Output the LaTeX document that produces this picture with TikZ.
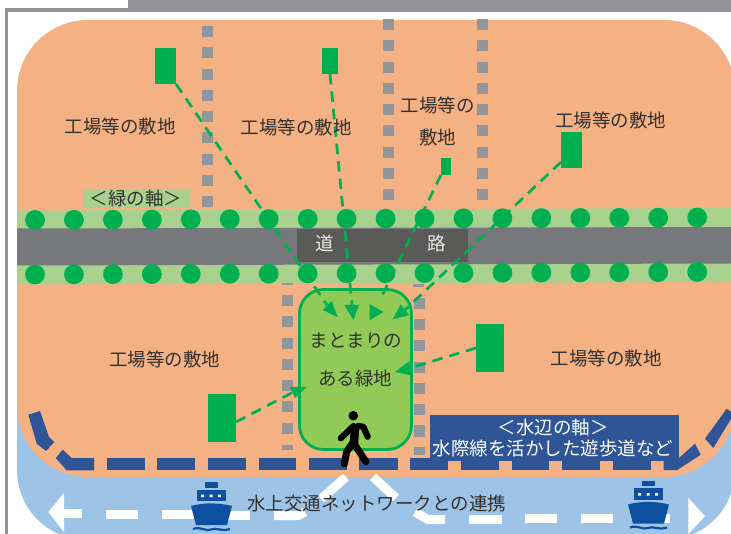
\documentclass[tikz,border=0pt]{standalone}
\usepackage{fontspec}
\setmainfont{Noto Sans CJK JP}
\definecolor{frameGrey}{HTML}{939598}
\definecolor{siteOrange}{HTML}{F4B183}
\definecolor{waterBlue}{HTML}{9DC3E6}
\definecolor{bandGreen}{HTML}{A9D18E}
\definecolor{roadGrey}{HTML}{77787B}
\definecolor{roadDark}{HTML}{5A5A58}
\definecolor{vivid}{HTML}{00B050}
\definecolor{parkGreen}{HTML}{92CA57}
\definecolor{axisBlue}{HTML}{2F5597}
\definecolor{shipBlue}{HTML}{0F4FA0}
\definecolor{inkText}{HTML}{33302E}
\tikzset{
  x=1pt,y=-1pt,
  label/.style={inner sep=0,outer sep=0,text=inkText,font=\fontsize{18.5}{20}\selectfont},
  whitelabel/.style={label,text=white},
  block/.style={fill=vivid,inner sep=0,outer sep=0},
  feeder/.style={draw=vivid,line width=2.7pt,dash pattern=on 10.5pt off 7pt},
  headtip/.style={fill=vivid},
  flow/.style={draw=white,line width=9pt,line join=miter},
  walker/.style={draw=black,line cap=round,line join=round},
  shipicon/.pic={
    \fill[shipBlue] (-6.5,-19) rectangle (6.5,-13.5);
    \fill[shipBlue] (-14.5,-11.5) rectangle (14.5,0);
    \fill[white] (-10,-6.5) rectangle (-7,-4) (-1.5,-6.5) rectangle (1.5,-4) (7,-6.5) rectangle (10,-4);
    \fill[shipBlue] (-20,5) .. controls (-7,1.5) and (7,1.5) .. (21,5) -- (16,24) -- (-15,24) -- cycle;
    \draw[shipBlue,line width=2.2pt] (-18,28) .. controls (-10,25) and (-5,31) .. (0,28.5) .. controls (5,26) and (10,31) .. (19,28);
  }
}
\begin{document}
\begin{tikzpicture}
\useasboundingbox (0,0) rectangle (731,534);
\clip (0,0) rectangle (731,534);
\fill[white] (0,0) rectangle (731,534);
% frame
\fill[frameGrey] (128,0) rectangle (731,12);
\fill[frameGrey] (4.5,8.5) rectangle (128,12.5);
\fill[frameGrey] (4.5,8.5) rectangle (8.3,534);
% ground
\fill[waterBlue,rounded corners=70pt] (17,300) rectangle (735,540);
\fill[siteOrange,rounded corners=71pt] (17,20) rectangle (735,477);
% bands and road
\fill[bandGreen] (17,210.5) -- (731,208) -- (731,227) -- (17,229) -- cycle;
\fill[bandGreen] (17,265) -- (731,263) -- (731,282) -- (17,284.5) -- cycle;
\fill[roadGrey] (17,228.5) -- (731,227) -- (731,263.5) -- (17,265.5) -- cycle;
\fill[roadDark] (297,229) rectangle (468,262);
% grey walkways
\foreach \i in {0,...,8}{
  \pgfmathsetmacro{\yy}{26+21.3*\i}
  \fill[frameGrey] (202,\yy) rectangle ++(11,11);
  \pgfmathsetmacro{\yz}{19+21.3*\i}
  \fill[frameGrey] (383,\yz) rectangle ++(11,11);
  \fill[frameGrey] (476.7,\yz) rectangle ++(11,11);
}
\foreach \i in {0,...,6}{
  \pgfmathsetmacro{\yy}{295+21.3*\i}
  \fill[frameGrey] (282,\yy) rectangle ++(11,11);
  \pgfmathsetmacro{\yz}{297.7+21.3*\i}
  \fill[frameGrey] (413.5,\yz) rectangle ++(11,11);
}
\fill[frameGrey] (282,283.5) rectangle (293,285);
\fill[frameGrey] (282,444.7) rectangle (293,449.7);
\fill[frameGrey] (413,284.5) rectangle (424,287);
\fill[frameGrey] (413.5,447) rectangle (424.5,455);
% park
\node[draw=vivid,fill=parkGreen,line width=2.8pt,rounded corners=24pt,inner sep=0,outer sep=0,minimum width=112pt,minimum height=160pt] (park) at (355.5,369.5) {};
% water-edge axis
\fill[axisBlue] (430,415) rectangle (679,460.7);
\foreach \a/\b in {106.7/144.7,157/195,208/246,258.7/296.3,309/346.7,359.3/397.7,410.3/448,461/499,511.7/549.3,562.3/600.3,613/651}{
  \fill[axisBlue] (\a,458) rectangle (\b,470.2);
}
\fill[axisBlue] (28.3,414.7) -- (40,411) -- (49,437) -- (54.3,442) -- (46,451) -- (36.7,443.7) -- cycle;
\fill[axisBlue] (62.7,449.7) -- (71.7,458) -- (94,458) -- (94,470.3) -- (66.7,470.3) -- (55.7,458) -- cycle;
\fill[axisBlue] (663.7,458) -- (679,458) -- (695,443.7) -- (700.7,454.7) -- (677,470.2) -- (663.7,470.2) -- cycle;
\fill[axisBlue] (726.7,408.7) -- (734,414) -- (713.3,448) -- (705,438.7) -- cycle;
% water flow
\draw[flow] (64,513.5) -- (82,513.5);
\draw[flow] (106,514) -- (138,514);
\draw[flow] (162,514.5) -- (194,514.5);
\draw[flow] (218,515) -- (250,515);
\draw[flow] (274,515.5) -- (298,515.5) -- (305,512);
\draw[flow] (321,499) -- (346,477);
\draw[flow] (373,477) -- (396,498);
\draw[flow] (415,512) -- (428,519.7) -- (445,519.7);
\draw[flow] (469,519.5) -- (502,519.5);
\draw[flow] (525,518.7) -- (557,518.7);
\draw[flow] (581,518.7) -- (613,518.7);
\draw[flow] (637,518) -- (670,518);
\fill[white] (48.3,512) -- (64,493) -- (64,532) -- cycle;
\fill[white] (705,516.3) -- (688.3,497.7) -- (688.3,534) -- cycle;
\pic at (211,501) {shipicon};
\pic at (648,499.5) {shipicon};
% source blocks
\node[block,minimum width=21pt,minimum height=36pt] (srcA) at (165.5,66) {};
\node[block,minimum width=16pt,minimum height=26pt] (srcB) at (330,61) {};
\node[block,minimum width=10pt,minimum height=17pt] (srcC) at (446,166.5) {};
\node[block,minimum width=21pt,minimum height=36pt] (srcD) at (571.5,150) {};
\node[block,minimum width=28pt,minimum height=48pt] (srcE) at (490,348) {};
\node[block,minimum width=28pt,minimum height=48pt] (srcF) at (222,418) {};
\coordinate (endA) at (327,305);
\coordinate (endB) at (352,305);
\coordinate (endC) at (381,298);
\coordinate (endD) at (405,310);
\coordinate (endE) at (410,368);
\coordinate (endF) at (292.5,392.5);
% feeders
\draw[feeder] (srcA.south east) -- (endA);
\draw[feeder] (srcB.south) -- (endB);
\draw[feeder] (srcC.south west) -- (endC);
\draw[feeder] ([yshift=6pt]srcD.south west) -- (endD);
\draw[feeder] (srcE.west) -- (endE);
\draw[feeder] ([yshift=-4pt]srcF.east) -- (endF);
% arrowheads
\fill[headtip] (322.7,310) -- (331.7,300.7) -- (337.7,317.3) -- cycle;
\fill[headtip] (344.3,305) -- (359.3,305) -- (353.3,320) -- cycle;
\fill[headtip] (369.5,304) -- (369.5,320.5) -- (383.5,312) -- cycle;
\fill[headtip] (392.7,319.3) -- (400.7,304.3) -- (409.3,315.3) -- cycle;
\fill[headtip] (395,372) -- (409.3,361) -- (410.7,375.3) -- cycle;
\fill[headtip] (306.7,387) -- (290,387) -- (295,398) -- cycle;
% trees
\foreach \i in {0,...,17}{
  \pgfmathsetmacro{\xx}{35+38.95*\i}
  \pgfmathsetmacro{\yu}{220-0.147*\i}
  \pgfmathsetmacro{\yl}{274.5-0.147*\i}
  \fill[vivid] (\xx,\yu) circle[radius=9.9pt];
  \fill[vivid] (\xx,\yl) circle[radius=9.9pt];
}
% pedestrian
\fill[black] (353.3,415.7) circle[radius=4.8pt];
\draw[walker,line width=8.5pt] (355,428) -- (354,443);
\draw[walker,line width=6.2pt] (353.5,426) -- (340.7,438.3);
\draw[walker,line width=6.2pt] (358,426) -- (363.3,426.7) -- (367.7,436.7);
\draw[walker,line width=7pt] (352.5,443.3) -- (346.7,451.7) -- (344.3,464);
\draw[walker,line width=7pt] (355,445) -- (359.3,451.7) -- (366,461.7);
% labels
\node[label] (siteA) at (120,126.7) {工場等の敷地};
\node[label] (siteB) at (296,127) {工場等の敷地};
\node[label] (siteC) at (437.7,105.5) {工場等の};
\node[label] (siteC2) at (437.7,137) {敷地};
\node[label] (siteD) at (610.7,120) {工場等の敷地};
\node[label] (siteE) at (164.5,359.7) {工場等の敷地};
\node[label] (siteF) at (606,358.7) {工場等の敷地};
\node[label] (parkA) at (355.8,340.7) {まとまりの};
\node[label] (parkB) at (355,378) {ある緑地};
\node[whitelabel,text=white!90!black] (roadA) at (325,243) {道};
\node[whitelabel,text=white!90!black] (roadB) at (437,243) {路};
\fill[bandGreen] (83.3,189.3) rectangle (189,207.7);
\node[label] (greenAxis) at (136,198) {＜緑の軸＞};
\node[whitelabel] (waterAxisA) at (553.3,427.5) {＜水辺の軸＞};
\node[whitelabel] (waterAxisB) at (553,448.7) {水際線を活かした遊歩道など};
\node[label] (link) at (376.7,503.7) {水上交通ネットワークとの連携};
\end{tikzpicture}
\end{document}
